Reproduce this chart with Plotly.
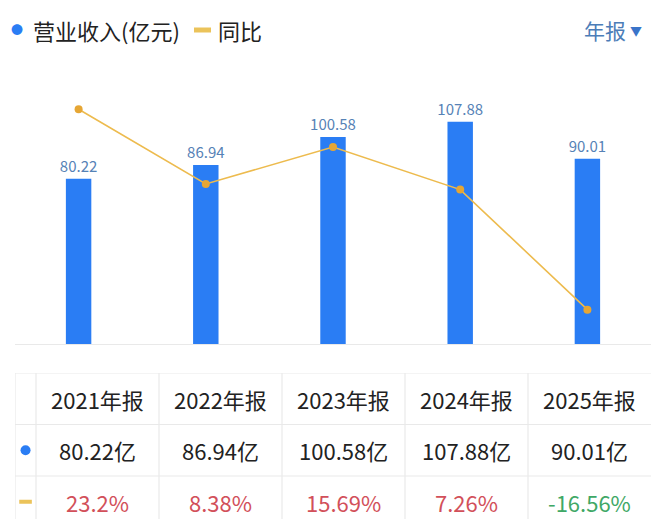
import plotly.graph_objects as go

# ---- data ----
years = ["2021年报", "2022年报", "2023年报", "2024年报", "2025年报"]
revenue = [80.22, 86.94, 100.58, 107.88, 90.01]          # 亿元
yoy = [23.2, 8.38, 15.69, 7.26, -16.56]                  # %
revenue_labels = ["80.22", "86.94", "100.58", "107.88", "90.01"]
revenue_cells = ["80.22亿", "86.94亿", "100.58亿", "107.88亿", "90.01亿"]
yoy_cells = ["23.2%", "8.38%", "15.69%", "7.26%", "-16.56%"]
legend_names = ["营业收入(亿元)", "同比"]
period_label = "年报"

# ---- style ----
W, H = 651, 519
BAR = "#2A7DF4"
LINE = "#EDBB4E"
MARK = "#E6A634"
LABEL = "#5682B6"
GRID = "#E9E9E9"
RED = "#D2505A"
GREEN = "#3FA866"
FONT = "Noto Sans CJK SC"

def py(p):  # pixel-from-top -> paper y
    return (H - p) / H

def px(p):
    return p / W

fig = go.Figure()

fig.add_trace(go.Bar(
    x=years, y=revenue, width=0.2, marker=dict(color=BAR, line=dict(width=0)),
    text=revenue_labels, textposition="outside", cliponaxis=False, constraintext="none",
    textfont=dict(color=LABEL, size=15, family=FONT),
    showlegend=False, xaxis="x", yaxis="y",
))
fig.add_trace(go.Scatter(
    x=years, y=yoy, mode="lines+markers",
    line=dict(color=LINE, width=1.6),
    marker=dict(color=MARK, size=8),
    showlegend=False, xaxis="x", yaxis="y2", cliponaxis=False,
))

# ---- table on its own axes (columns = year index, rows = 0..2) ----
marker_col = -0.585
fig.add_trace(go.Scatter(
    x=[marker_col], y=[1], mode="markers",
    marker=dict(color=BAR, size=10), showlegend=False,
    xaxis="x3", yaxis="y3", hoverinfo="skip",
))
fig.add_trace(go.Scatter(
    x=[marker_col], y=[2], mode="markers",
    marker=dict(symbol="line-ew", size=9, line=dict(color="#EBC35A", width=4)),
    showlegend=False, xaxis="x3", yaxis="y3", hoverinfo="skip", cliponaxis=False,
))

annotations = []
for i, (yr, rc, pc, g) in enumerate(zip(years, revenue_cells, yoy_cells, yoy)):
    annotations.append(dict(x=i, y=0, xref="x3", yref="y3", text=yr, showarrow=False,
                            font=dict(size=22, color="#222222", family=FONT)))
    annotations.append(dict(x=i, y=1, xref="x3", yref="y3", text=rc, showarrow=False,
                            font=dict(size=22, color="#222222", family=FONT)))
    annotations.append(dict(x=i, y=2, xref="x3", yref="y3", text=pc, showarrow=False,
                            font=dict(size=22, color=RED if g >= 0 else GREEN, family=FONT)))

# legend / header texts
annotations += [
    dict(x=px(17), y=py(30), xref="paper", yref="paper", text="●", showarrow=False,
         font=dict(size=12, color=BAR, family=FONT), xanchor="center", yanchor="middle"),
    dict(x=px(31), y=py(30), xref="paper", yref="paper", text=legend_names[0], showarrow=False,
         font=dict(size=22, color="#222222", family=FONT), xanchor="left", yanchor="middle"),
    dict(x=px(216), y=py(30), xref="paper", yref="paper", text=legend_names[1], showarrow=False,
         font=dict(size=22, color="#222222", family=FONT), xanchor="left", yanchor="middle"),
    dict(x=px(582), y=py(30), xref="paper", yref="paper", text=period_label, showarrow=False,
         font=dict(size=21, color="#4C7DB8", family=FONT), xanchor="left", yanchor="middle"),
    dict(x=px(636), y=py(31), xref="paper", yref="paper", text="▼", showarrow=False,
         font=dict(size=12, color="#3A74C9", family=FONT), xanchor="center", yanchor="middle"),
]

shapes = [
    dict(type="line", xref="paper", yref="paper", x0=px(194), x1=px(211), y0=py(30), y1=py(30),
         line=dict(color="#EBC35A", width=5)),
]
# table grid
tl, tr = -0.6707, 4.5
for r in [-0.5, 0.5, 1.5]:
    shapes.append(dict(type="line", xref="x3", yref="y3", x0=tl, x1=tr, y0=r, y1=r,
                       line=dict(color=GRID, width=1.2)))
for c in [tl, -0.5, 0.5, 1.5, 2.5, 3.5]:
    shapes.append(dict(type="line", xref="x3", yref="y3", x0=c, x1=c, y0=-0.5, y1=2.4,
                       line=dict(color=GRID, width=1.2)))

fig.update_layout(
    width=W, height=H, margin=dict(l=0, r=0, t=0, b=0),
    paper_bgcolor="white", plot_bgcolor="white",
    font=dict(family=FONT),
    bargap=0.8,
    xaxis=dict(domain=[px(15), 1], range=[-0.5, 4.5], showticklabels=False, ticks="",
               showgrid=False, zeroline=False, showline=True, linecolor=GRID, linewidth=1.2,
               anchor="y", fixedrange=True),
    yaxis=dict(domain=[py(344), py(80)], range=[0, 128.2], visible=False, showgrid=False,
               fixedrange=True),
    yaxis2=dict(overlaying="y", range=[-23.37, 29.0], visible=False, showgrid=False,
                fixedrange=True),
    xaxis3=dict(domain=[px(15), 1], range=[tl, tr], visible=False, anchor="y3", fixedrange=True),
    yaxis3=dict(domain=[0, py(373)], range=[2.335, -0.5], visible=False, anchor="x3",
                fixedrange=True),
    annotations=annotations, shapes=shapes,
    hovermode=False,
)

fig.write_html("out.html", config={"displayModeBar": False},
               post_script="document.body.style.margin='0';document.body.style.padding='0';"
                           "document.body.style.overflow='hidden';")
